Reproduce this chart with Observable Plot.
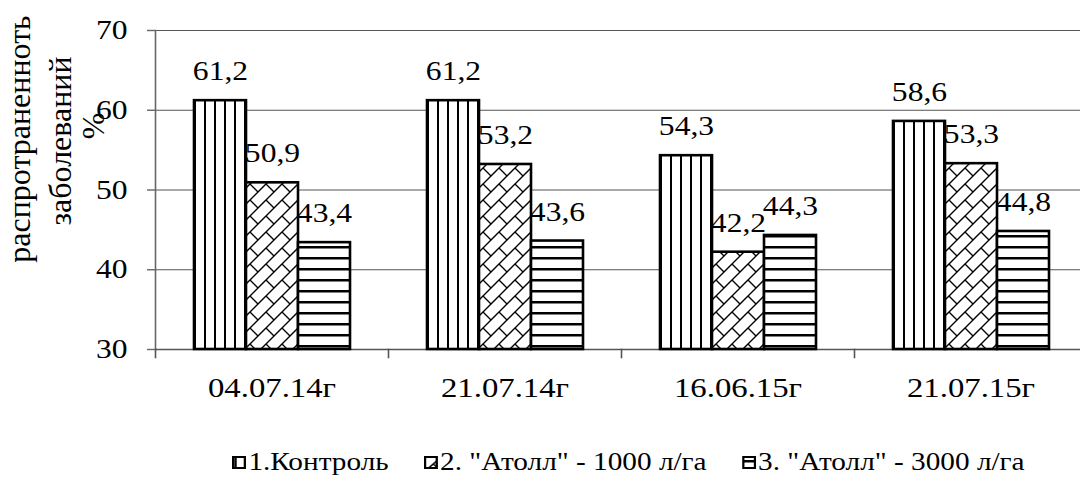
<!DOCTYPE html>
<html>
<head>
<meta charset="utf-8">
<script src="https://cdn.jsdelivr.net/npm/d3@7"></script>
<script src="https://cdn.jsdelivr.net/npm/@observablehq/plot@0.6"></script>
<style>
  html, body { margin: 0; padding: 0; background: #fff; width: 1080px; height: 484px; overflow: hidden; }
  body { position: relative; font-family: "Liberation Serif", "Times New Roman", serif; }
  #legend { position: absolute; left: 232px; top: 449px; display: flex; align-items: center;
            font-size: 25px; line-height: 26px; color: #000; white-space: nowrap;
            transform: scaleX(1.17); transform-origin: 0 50%; }
  #legend .item { display: flex; align-items: center; margin-right: 30px; }
  #legend svg { margin-right: 2px; }
</style>
</head>
<body>
<svg width="0" height="0" style="position:absolute">
  <defs>
    <pattern id="pat-vert" patternUnits="userSpaceOnUse" width="10" height="10">
      <rect width="10" height="10" fill="#fff"/>
      <rect x="2" y="0" width="2" height="10" fill="#000"/>
    </pattern>
    <pattern id="pat-brick" patternUnits="userSpaceOnUse" width="16" height="16">
      <rect width="16" height="16" fill="#fff"/>
      <path d="M-2,18L18,-2M-4,4L4,-4M12,20L20,12M8,8L16,16" stroke="#000" stroke-width="1.4" fill="none"/>
    </pattern>
    <pattern id="pat-horiz" patternUnits="userSpaceOnUse" width="11" height="11">
      <rect width="11" height="11" fill="#fff"/>
      <rect x="0" y="4" width="11" height="2.5" fill="#000"/>
    </pattern>
  </defs>
</svg>
<div id="chart"></div>
<div id="legend"></div>
<script>
// Sampling dates (x-axis categories)
const categories = ["04.07.14г", "21.07.14г", "16.06.15г", "21.07.15г"];
// Treatments (series)
const series = ["1.Контроль", "2. \"Атолл\" - 1000 л/га", "3. \"Атолл\" - 3000 л/га"];
// Disease prevalence, %, per date
const control   = [61.2, 61.2, 54.3, 58.6];
const atoll1000 = [50.9, 53.2, 42.2, 53.3];
const atoll3000 = [43.4, 43.6, 44.3, 44.8];
// Y axis ticks
const yTicks = [30, 40, 50, 60, 70];
// Y axis title lines
const yTitle = ["распротраненноть", "заболеваний", "%"];

const values = [control, atoll1000, atoll3000];
const fills = ["url(#pat-vert)", "url(#pat-brick)", "url(#pat-horiz)"];
const yMin = yTicks[0], yMax = yTicks[yTicks.length - 1];

const rows = categories.flatMap((date, i) =>
  series.map((s, j) => ({date, series: s, k: j, value: values[j][i]})));

const fmt = v => v.toFixed(1).replace(".", ",");

const W = 1088, H = 430, mTop = 30, mBottom = 81, mLeft = 153;
const innerH = H - mTop - mBottom;

const serif = "'Liberation Serif', 'Times New Roman', serif";

const chart = Plot.plot({
  width: W,
  height: H,
  marginLeft: mLeft,
  marginRight: 0,
  marginTop: mTop,
  marginBottom: mBottom,
  style: {fontFamily: serif, fontSize: "26px", color: "#000", background: "transparent", maxWidth: "none", overflow: "visible"},
  fx: {domain: categories, padding: 0, label: null},
  x: {domain: series, paddingInner: 0, paddingOuter: 0.726, axis: null},
  y: {domain: [yMin, yMax], label: null},
  marks: [
    Plot.gridY(yTicks, {stroke: "#555", strokeOpacity: 1, strokeWidth: 1.2}),
    Plot.frame({anchor: "left", facetAnchor: "left", stroke: "#666", strokeWidth: 1.6}),
    Plot.ruleY([yMin], {stroke: "#555", strokeWidth: 1.6}),
    Plot.frame({anchor: "left", insetTop: innerH, insetBottom: -8, stroke: "#555", strokeWidth: 1.6}),
    Plot.axisY(yTicks, {tickSize: 8, tickPadding: 20, stroke: "#666", strokeWidth: 1.4, fontSize: 27}),
    Plot.axisFx({anchor: "bottom", tickSize: 0, tickPadding: 28, fontSize: 28}),
    ...series.map((s, j) =>
      Plot.barY(rows.filter(d => d.k === j), {
        fx: "date", x: "series", y1: yMin, y2: "value",
        fill: fills[j], stroke: "#000", strokeWidth: 2.6
      })),
    Plot.text(rows, {
      fx: "date", x: "series", y: "value", text: d => fmt(d.value),
      dy: -29, lineAnchor: "middle", fontSize: 27, fill: "#000"
    }),
    Plot.text([yTitle[0]], {frameAnchor: "left", facetAnchor: "left", textAnchor: "middle", rotate: -90, dx: -136, dy: -51, fontSize: 32, lineAnchor: "middle"}),
    Plot.text([yTitle[1]], {frameAnchor: "left", facetAnchor: "left", textAnchor: "middle", rotate: -90, dx: -95, dy: -49, fontSize: 32, lineAnchor: "middle"}),
    Plot.text([yTitle[2]], {frameAnchor: "left", facetAnchor: "left", textAnchor: "middle", rotate: -90, dx: -62, dy: -64, fontSize: 32, lineAnchor: "middle"})
  ]
});

// Widen the horizontal glyphs slightly (the chart's text is set wide)
chart.querySelectorAll("text").forEach(t => {
  const tr = t.getAttribute("transform");
  if (tr) {
    if (!tr.includes("rotate")) t.setAttribute("transform", tr + " scale(1.17,1)");
  } else {
    const x = +(t.getAttribute("x") || 0);
    t.setAttribute("transform", `translate(${x},0) scale(1.17,1) translate(${-x},0)`);
  }
});

document.getElementById("chart").appendChild(chart);

// Legend with patterned swatches
const legend = document.getElementById("legend");
series.forEach((s, j) => {
  const item = document.createElement("div");
  item.className = "item";
  item.innerHTML = `<svg width="12" height="13"><rect x="1" y="1" width="10" height="11" fill="${fills[j]}" stroke="#000" stroke-width="2"/></svg><span></span>`;
  item.querySelector("span").textContent = s;
  legend.appendChild(item);
});
</script>
</body>
</html>
